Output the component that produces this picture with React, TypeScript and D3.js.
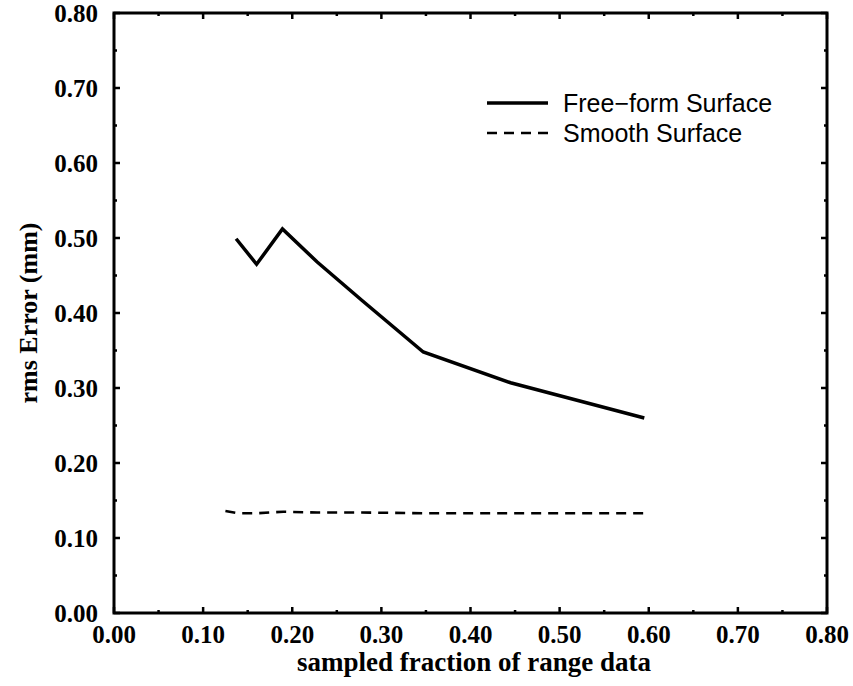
import React from "react";
import * as d3 from "d3";

const freeX = [0.137, 0.16, 0.189, 0.228, 0.278, 0.347, 0.445, 0.595];
const freeY = [0.499, 0.465, 0.512, 0.468, 0.417, 0.348, 0.307, 0.26];
const smoothX = [0.125, 0.14, 0.16, 0.19, 0.228, 0.278, 0.347, 0.445, 0.595];
const smoothY = [0.136, 0.133, 0.133, 0.135, 0.134, 0.134, 0.133, 0.133, 0.133];
const majorTicks = [0, 0.1, 0.2, 0.3, 0.4, 0.5, 0.6, 0.7, 0.8];
const minorTicks = [0.05, 0.15, 0.25, 0.35, 0.45, 0.55, 0.65, 0.75];
const legendLabels = ["Free\u2212form Surface", "Smooth Surface"];

const W = 853, H = 686;
const L = 114, R = 827, T = 13, B = 613;

export default function App() {
  const x = d3.scaleLinear().domain([0, 0.8]).range([L, R]);
  const y = d3.scaleLinear().domain([0, 0.8]).range([B, T]);
  const line = d3.line<[number, number]>().x(d => x(d[0])).y(d => y(d[1]));
  const free = freeX.map((v, i) => [v, freeY[i]] as [number, number]);
  const smooth = smoothX.map((v, i) => [v, smoothY[i]] as [number, number]);
  const serif = "'Liberation Serif', 'Times New Roman', serif";
  const sans = "'Liberation Sans', Arial, sans-serif";
  const fmt = d3.format(".2f");
  const MJ = 6, MN = 3;
  return (
    <svg width={W} height={H} style={{ position: "absolute", left: 0, top: 0, background: "#fff" }}>
      <rect x={0} y={0} width={W} height={H} fill="#fff" />
      {/* ticks */}
      <g stroke="#000" strokeWidth={2.5}>
        {majorTicks.map((t, i) => (
          <g key={"M" + i}>
            <line x1={x(t)} x2={x(t)} y1={B} y2={B - MJ} />
            <line x1={x(t)} x2={x(t)} y1={T} y2={T + MJ} />
            <line x1={L} x2={L + MJ} y1={y(t)} y2={y(t)} />
            <line x1={R} x2={R - MJ} y1={y(t)} y2={y(t)} />
          </g>
        ))}
        {minorTicks.map((t, i) => (
          <g key={"m" + i}>
            <line x1={x(t)} x2={x(t)} y1={B} y2={B - MN} />
            <line x1={x(t)} x2={x(t)} y1={T} y2={T + MN} />
            <line x1={L} x2={L + MN} y1={y(t)} y2={y(t)} />
            <line x1={R} x2={R - MN} y1={y(t)} y2={y(t)} />
          </g>
        ))}
      </g>
      <rect x={L} y={T} width={R - L} height={B - T} fill="none" stroke="#000" strokeWidth={3} />
      {/* tick labels */}
      <g fontFamily={serif} fontWeight="bold" fill="#000">
        {majorTicks.map((t, i) => (
          <text key={"xl" + i} x={x(t)} y={643} fontSize={25} textAnchor="middle">{fmt(t)}</text>
        ))}
        {majorTicks.map((t, i) => (
          <text key={"yl" + i} x={98} y={y(t)} dy="0.35em" fontSize={25} textAnchor="end">{fmt(t)}</text>
        ))}
        <text x={474} y={671} fontSize={27} textAnchor="middle">sampled fraction of range data</text>
        <text transform={`translate(37,${(T + B) / 2}) rotate(-90)`} fontSize={26} textAnchor="middle">rms Error (mm)</text>
      </g>
      {/* data */}
      <path d={line(free) || ""} fill="none" stroke="#000" strokeWidth={3.5} strokeLinejoin="miter" />
      <path d={line(smooth) || ""} fill="none" stroke="#000" strokeWidth={2.6} strokeDasharray="10,7" />
      {/* legend */}
      <g>
        <line x1={487} x2={548} y1={103} y2={103} stroke="#000" strokeWidth={3.5} />
        <line x1={487} x2={548} y1={133} y2={133} stroke="#000" strokeWidth={2.6} strokeDasharray="10,7" />
        <text x={563} y={112} fontFamily={sans} fontSize={25} fill="#000">{legendLabels[0]}</text>
        <text x={563} y={142} fontFamily={sans} fontSize={25} fill="#000">{legendLabels[1]}</text>
      </g>
    </svg>
  );
}
